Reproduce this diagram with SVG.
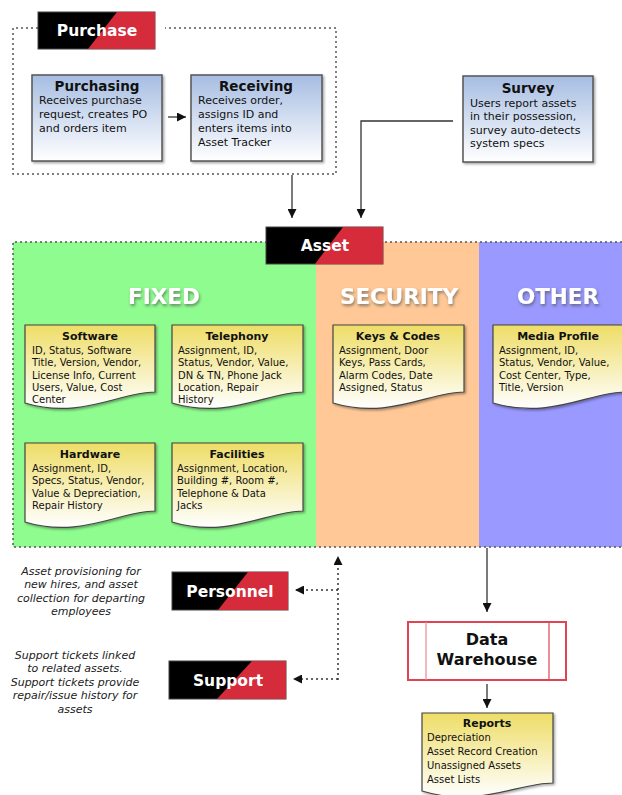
<svg xmlns="http://www.w3.org/2000/svg" width="622" height="795" viewBox="0 0 622 795">
<defs>
<linearGradient id="blueG" x1="0" y1="0" x2="0" y2="1">
<stop offset="0" stop-color="#a6bde2"/><stop offset="1" stop-color="#ffffff"/>
</linearGradient>
<linearGradient id="yelG" x1="0" y1="0" x2="0" y2="1">
<stop offset="0" stop-color="#eedd66"/><stop offset="1" stop-color="#ffffff"/>
</linearGradient>
<filter id="sh" x="-10%" y="-10%" width="130%" height="130%">
<feDropShadow dx="1.5" dy="1.5" stdDeviation="1" flood-color="#000" flood-opacity="0.35"/>
</filter>
<filter id="tsh" x="-20%" y="-30%" width="140%" height="170%">
<feDropShadow dx="1" dy="2" stdDeviation="1.5" flood-color="#444" flood-opacity="0.6"/>
</filter>
<marker id="ah" viewBox="0 0 10 10" refX="10" refY="5" markerWidth="9" markerHeight="9" markerUnits="userSpaceOnUse" orient="auto">
<path d="M0,0 L10,5 L0,10 Z" fill="#111"/>
</marker>
<style>
text{font-family:"DejaVu Sans","Verdana",sans-serif;fill:#111}
.bt{font-weight:bold;font-size:13.5px;text-anchor:middle}
.bb{font-size:11px}
.dt{font-weight:bold;font-size:11px;text-anchor:middle}
.db{font-size:10px}
.lbl{font-weight:bold;font-size:15.5px;fill:#fff;text-anchor:middle}
.hd{font-weight:bold;font-size:21.5px;fill:#fff;text-anchor:middle}
.it{font-style:italic;font-size:11px;text-anchor:middle;fill:#222}
.box{fill:url(#blueG);stroke:#555;stroke-width:1.5}
.doc{fill:url(#yelG);stroke:#444;stroke-width:1.2}
.dot{fill:none;stroke:#555;stroke-width:1.5;stroke-dasharray:2 3}
.con{fill:none;stroke:#333;stroke-width:1.3}
.dcon{fill:none;stroke:#333;stroke-width:1.5;stroke-dasharray:2 3}
</style>
</defs>
<rect width="622" height="795" fill="#fff"/>

<!-- columns background -->
<g id="columns">
<rect x="13" y="242" width="303" height="305" fill="#8ffc8f"/>
<rect x="316" y="242" width="163" height="305" fill="#ffc896"/>
<rect x="479" y="242" width="143" height="305" fill="#9999ff"/>
<path class="dot" d="M622,242 H13 V547 H622"/>
<text class="hd" x="164" y="304" filter="url(#tsh)">FIXED</text>
<text class="hd" x="399" y="304" filter="url(#tsh)">SECURITY</text>
<text class="hd" x="558" y="304" filter="url(#tsh)">OTHER</text>
</g>

<!-- purchase container -->
<g id="purchase-group">
<path class="dot" d="M38,28 H13 V174 H336 V28 H165"/>
</g>

<g id="purchase-label">
<rect x="38" y="12" width="117" height="37" fill="#000" stroke="#444" stroke-width="1"/>
<polygon points="117,12 155,12 155,49 88,49" fill="#d62b3b"/>
<text class="lbl" x="97" y="36">Purchase</text>
</g>

<g id="purchasing">
<rect class="box" x="32" y="75" width="130" height="86" filter="url(#sh)"/>
<text class="bt" x="97" y="91">Purchasing</text>
<text class="bb" x="39" y="104">Receives purchase</text>
<text class="bb" x="39" y="118">request, creates PO</text>
<text class="bb" x="39" y="132">and orders item</text>
</g>

<g id="receiving">
<rect class="box" x="191" y="75" width="131" height="86" filter="url(#sh)"/>
<text class="bt" x="256" y="91">Receiving</text>
<text class="bb" x="198" y="104">Receives order,</text>
<text class="bb" x="198" y="118">assigns ID and</text>
<text class="bb" x="198" y="132">enters items into</text>
<text class="bb" x="198" y="146">Asset Tracker</text>
</g>

<g id="survey">
<rect class="box" x="463" y="76" width="130" height="86" filter="url(#sh)"/>
<text class="bt" x="528" y="93">Survey</text>
<text class="bb" x="470" y="107">Users report assets</text>
<text class="bb" x="470" y="120">in their possession,</text>
<text class="bb" x="470" y="134">survey auto-detects</text>
<text class="bb" x="470" y="147">system specs</text>
</g>

<g id="asset-label">
<rect x="266" y="227" width="117" height="37" fill="#000" stroke="#444" stroke-width="1"/>
<polygon points="343,227 383,227 383,264 315,264" fill="#d62b3b"/>
<text class="lbl" x="325" y="251">Asset</text>
</g>

<g id="software">
<path class="doc" filter="url(#sh)" d="M25,325 H155 V392 C120,392 80,420 25,403 Z"/>
<text class="dt" x="90" y="340">Software</text>
<text class="db" x="32" y="354">ID, Status, Software</text>
<text class="db" x="32" y="366">Title, Version, Vendor,</text>
<text class="db" x="32" y="379">License Info, Current</text>
<text class="db" x="32" y="391">Users, Value, Cost</text>
<text class="db" x="32" y="403">Center</text>
</g>

<g id="telephony">
<path class="doc" filter="url(#sh)" d="M172,325 H303 V392 C268,392 228,420 172,403 Z"/>
<text class="dt" x="237" y="340">Telephony</text>
<text class="db" x="178" y="354">Assignment, ID,</text>
<text class="db" x="178" y="366">Status, Vendor, Value,</text>
<text class="db" x="178" y="379">DN &amp; TN, Phone Jack</text>
<text class="db" x="178" y="391">Location, Repair</text>
<text class="db" x="178" y="403">History</text>
</g>

<g id="hardware">
<path class="doc" filter="url(#sh)" d="M25,443 H155 V511 C120,511 80,539 25,522 Z"/>
<text class="dt" x="90" y="458">Hardware</text>
<text class="db" x="32" y="472">Assignment, ID,</text>
<text class="db" x="32" y="484">Specs, Status, Vendor,</text>
<text class="db" x="32" y="497">Value &amp; Depreciation,</text>
<text class="db" x="32" y="509">Repair History</text>
</g>

<g id="facilities">
<path class="doc" filter="url(#sh)" d="M172,443 H303 V511 C268,511 228,539 172,522 Z"/>
<text class="dt" x="237" y="458">Facilities</text>
<text class="db" x="177" y="472">Assignment, Location,</text>
<text class="db" x="177" y="484">Building #, Room #,</text>
<text class="db" x="177" y="497">Telephone &amp; Data</text>
<text class="db" x="177" y="509">Jacks</text>
</g>

<g id="keys-codes">
<path class="doc" filter="url(#sh)" d="M333,325 H464 V392 C429,392 389,420 333,403 Z"/>
<text class="dt" x="398" y="340">Keys &amp; Codes</text>
<text class="db" x="339" y="354">Assignment, Door</text>
<text class="db" x="339" y="366">Keys, Pass Cards,</text>
<text class="db" x="339" y="379">Alarm Codes, Date</text>
<text class="db" x="339" y="391">Assigned, Status</text>
</g>

<g id="media-profile">
<path class="doc" filter="url(#sh)" d="M493,325 H625 V392 C590,392 550,420 493,403 Z"/>
<text class="dt" x="558" y="340">Media Profile</text>
<text class="db" x="499" y="354">Assignment, ID,</text>
<text class="db" x="499" y="366">Status, Vendor, Value,</text>
<text class="db" x="499" y="379">Cost Center, Type,</text>
<text class="db" x="499" y="391">Title, Version</text>
</g>

<g id="personnel">
<rect x="172" y="572" width="116" height="38" fill="#000" stroke="#444" stroke-width="1"/>
<polygon points="248,572 288,572 288,610 218,610" fill="#d62b3b"/>
<text class="lbl" x="230" y="597">Personnel</text>
</g>

<g id="support">
<rect x="169" y="661" width="117" height="38" fill="#000" stroke="#444" stroke-width="1"/>
<polygon points="252,661 286,661 286,699 217,699" fill="#d62b3b"/>
<text class="lbl" x="228" y="686">Support</text>
</g>

<g id="personnel-note">
<text class="it" x="81" y="575">Asset provisioning for</text>
<text class="it" x="81" y="588">new hires, and asset</text>
<text class="it" x="81" y="602">collection for departing</text>
<text class="it" x="81" y="615">employees</text>
</g>

<g id="support-note">
<text class="it" x="75" y="659">Support tickets linked</text>
<text class="it" x="75" y="672">to related assets.</text>
<text class="it" x="75" y="686">Support tickets provide</text>
<text class="it" x="75" y="699">repair/issue history for</text>
<text class="it" x="75" y="713">assets</text>
</g>

<g id="data-warehouse">
<rect x="408" y="622" width="158" height="58" fill="#fff" stroke="#e04452" stroke-width="2"/>
<line x1="426" y1="622" x2="426" y2="680" stroke="#e88a92" stroke-width="1.2"/>
<line x1="549" y1="622" x2="549" y2="680" stroke="#e04452" stroke-width="1.2"/>
<text x="487" y="645" style="font-weight:bold;font-size:16px;text-anchor:middle">Data</text>
<text x="487" y="665" style="font-weight:bold;font-size:16px;text-anchor:middle">Warehouse</text>
</g>

<g id="reports">
<path class="doc" filter="url(#sh)" d="M422,713 H553 V783 C518,783 478,808 422,791 Z"/>
<text class="dt" x="487" y="727">Reports</text>
<text class="db" x="427" y="741">Depreciation</text>
<text class="db" x="427" y="755">Asset Record Creation</text>
<text class="db" x="427" y="769">Unassigned Assets</text>
<text class="db" x="427" y="783">Asset Lists</text>
</g>

<g id="connectors">
<line class="con" x1="168" y1="117" x2="186" y2="117" marker-end="url(#ah)"/>
<line class="con" x1="292" y1="175" x2="292" y2="218" marker-end="url(#ah)"/>
<polyline class="con" points="453,121 361,121 361,218" marker-end="url(#ah)"/>
<line class="con" x1="487" y1="548" x2="487" y2="612" marker-end="url(#ah)"/>
<line class="con" x1="487" y1="684" x2="487" y2="708" marker-end="url(#ah)"/>
<line class="dcon" x1="338" y1="680" x2="338" y2="556" marker-end="url(#ah)"/>
<line class="dcon" x1="338" y1="590" x2="295" y2="590" marker-end="url(#ah)"/>
<line class="dcon" x1="338" y1="679" x2="293" y2="679" marker-end="url(#ah)"/>
</g>
</svg>
